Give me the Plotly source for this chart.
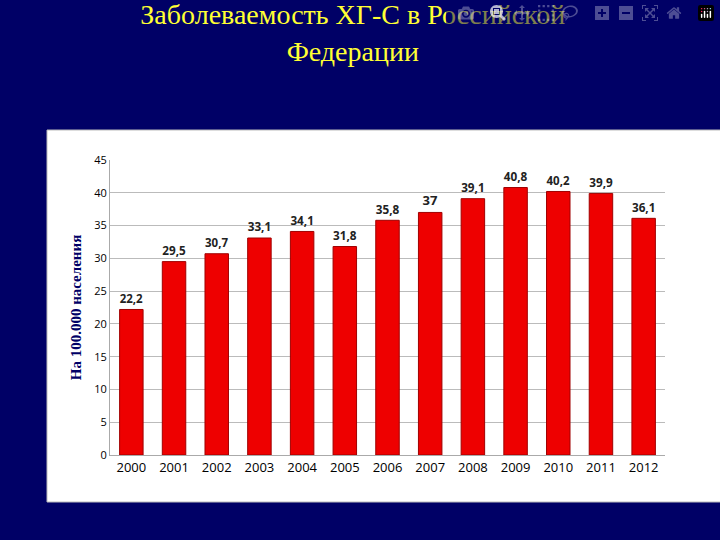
import plotly.graph_objects as go

years = ["2000", "2001", "2002", "2003", "2004", "2005", "2006",
         "2007", "2008", "2009", "2010", "2011", "2012"]
values = [22.2, 29.5, 30.7, 33.1, 34.1, 31.8, 35.8, 37, 39.1, 40.8, 40.2, 39.9, 36.1]
labels = ["22,2", "29,5", "30,7", "33,1", "34,1", "31,8", "35,8", "37",
          "39,1", "40,8", "40,2", "39,9", "36,1"]

fig = go.Figure()
fig.add_trace(go.Bar(
    x=years, y=values, text=["<b>" + t + "</b>" for t in labels],
    textposition="outside",
    textfont=dict(family="Open Sans", size=13, color="#222222"),
    marker=dict(color="#ee0000", line=dict(color="#a00000", width=1)),
    width=0.55, cliponaxis=False,
))

fig.update_layout(
    width=720, height=540,
    paper_bgcolor="#000066", plot_bgcolor="white",
    margin=dict(l=110, r=55, t=160, b=85),
    showlegend=False,
    title=dict(text="Заболеваемость ХГ-С в Российской<br>Федерации",
               x=0.49, xanchor="center", y=0.955, yanchor="top",
               font=dict(family="Liberation Serif", size=28, color="#ffff33")),
    shapes=[dict(type="rect", xref="paper", yref="paper", layer="below",
                 x0=-63 / 555, x1=633 / 555, y0=-47 / 295, y1=325 / 295,
                 fillcolor="white", line=dict(color="#bbbbbb", width=1))],
    xaxis=dict(tickfont=dict(family="Open Sans", size=13, color="black"),
               showline=True, linecolor="#aaaaaa"),
    yaxis=dict(range=[0, 45], dtick=5, gridcolor="#bbbbbb",
               tickfont=dict(family="Open Sans", size=11, color="black"),
               showline=True, linecolor="#aaaaaa",
               title=dict(text="<b>На 100.000 населения</b>", standoff=8,
                          font=dict(family="Liberation Serif", size=15, color="#000066"))),
)

fig.write_html("out.html",
               post_script="document.body.style.margin='0';document.body.style.overflow='hidden';")
